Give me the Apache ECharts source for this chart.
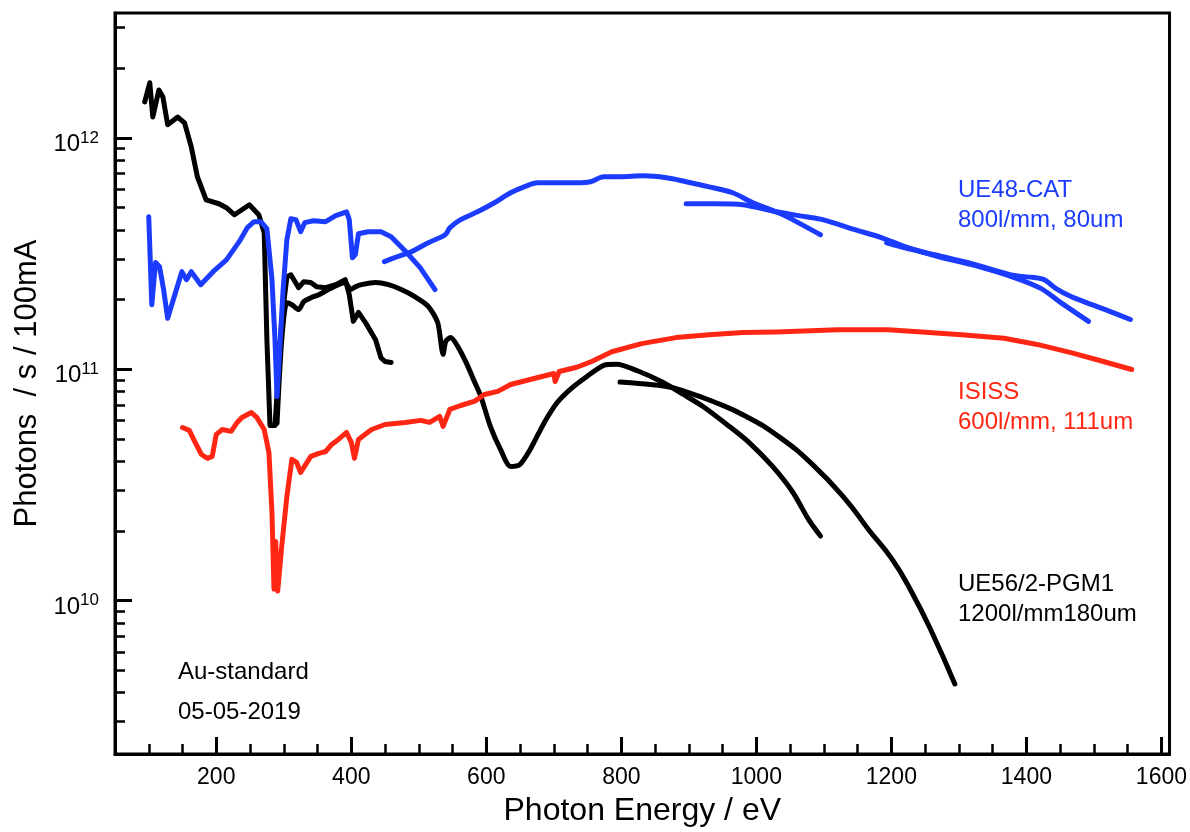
<!DOCTYPE html>
<html><head><meta charset="utf-8">
<script src="https://cdn.jsdelivr.net/npm/echarts@6/dist/echarts.min.js"></script>
<style>html,body{margin:0;padding:0;background:#fff}#c{width:1190px;height:832px}</style>
</head><body><div id="c"></div>
<script>
const FONT = '"Liberation Sans", Arial, Helvetica, sans-serif';
const BLUE = '#1b3cff', RED = '#ff2614', BLACK = '#000000';

// tick values
const xMajorTicks = [200, 400, 600, 800, 1000, 1200, 1400, 1600];
const xMinorTicks = [100, 150, 250, 300, 350, 450, 500, 550, 650, 700, 750, 850, 900, 950, 1050, 1100, 1150, 1250, 1300, 1350, 1450, 1500, 1550];
const yMajorTicks = [1e10, 1e11, 1e12];
const yMinorTicks = [3e9, 4e9, 5e9, 6e9, 7e9, 8e9, 9e9,
  2e10, 3e10, 4e10, 5e10, 6e10, 7e10, 8e10, 9e10,
  2e11, 3e11, 4e11, 5e11, 6e11, 7e11, 8e11, 9e11,
  2e12, 3e12];

// UE56/2-PGM1 (black), three scans  [photon energy eV, photons/s/100mA]
const pgmScanA = [[94,1.43e12],[101.5,1.73e12],[106,1.23e12],[115,1.61e12],[121,1.50e12],[128,1.14e12],[143,1.23e12],[153,1.16e12],[163,9.14e11],[172,6.79e11],[185,5.40e11],[204,5.19e11],[215,4.99e11],[227,4.65e11],[249,5.14e11],[263,4.65e11],[271,3.89e11],[275,1.34e11],[279.6,5.71e10],[287,5.71e10],[297,1.64e11],[304.6,2.51e11],[310.5,2.56e11],[322,2.25e11],[329.6,2.39e11],[340,2.37e11],[349,2.27e11],[362,2.25e11],[377,2.32e11],[391,2.44e11],[397,2.10e11],[403,1.61e11],[410.6,1.76e11],[421,1.59e11],[436,1.34e11],[444,1.12e11],[450,1.08e11],[459,1.07e11]];
const pgmScanB = [[290,5.83e10],[297,1.34e11],[304.6,1.94e11],[312,1.90e11],[322,1.81e11],[329.6,1.96e11],[341,2.04e11],[352,2.10e11],[366,2.21e11],[381,2.32e11],[391,2.37e11],[399,2.21e11],[406,2.27e11],[415,2.32e11],[436,2.37e11],[455,2.32e11],[474,2.21e11],[494,2.06e11],[514,1.87e11],[528,1.59e11],[536,1.16e11],[540,1.32e11],[547,1.37e11],[558,1.25e11],[570,1.07e11],[583,8.76e10],[592,7.62e10],[606,5.66e10],[621,4.50e10],[636,3.80e10],[650,3.88e10],[665,4.50e10],[686,5.89e10],[705,7.18e10],[724,8.17e10],[749,9.30e10],[774,1.04e11],[793,1.05e11],[823,9.87e10],[862,8.76e10],[892,7.78e10],[921,6.90e10],[960,5.66e10],[989,4.83e10],[1024,3.80e10],[1054,2.94e10],[1077,2.25e10],[1095,1.90e10]];
const pgmScanC = [[798,8.8e10],[830,8.65e10],[867,8.42e10],[886,8.17e10],[936,7.25e10],[985,6.25e10],[1033,5.12e10],[1083,3.88e10],[1132,2.74e10],[1166,2.03e10],[1201,1.51e10],[1230,1.09e10],[1260,7.3e9],[1294,4.36e9]];

// ISISS (red)
const isiss = [[150,5.60e10],[160,5.44e10],[168,4.88e10],[178,4.28e10],[187,4.12e10],[194,4.20e10],[200,5.23e10],[209,5.49e10],[222,5.39e10],[231,5.89e10],[238,6.19e10],[252,6.50e10],[260,6.19e10],[271,5.49e10],[278,4.37e10],[282.5,2.41e10],[285.5,1.12e10],[288,1.80e10],[291,1.10e10],[297,1.72e10],[304.6,2.82e10],[312,4.08e10],[319,3.96e10],[325,3.58e10],[332.6,3.88e10],[340,4.20e10],[352,4.33e10],[362,4.41e10],[371,4.73e10],[381,4.97e10],[393,5.33e10],[400,4.83e10],[404.7,4.12e10],[410.6,4.97e10],[430,5.49e10],[450,5.77e10],[480,5.89e10],[503,6.01e10],[516,5.89e10],[531,6.25e10],[536,5.66e10],[546,6.70e10],[562,6.97e10],[583,7.28e10],[597,7.78e10],[617,8.02e10],[636,8.59e10],[665,9.03e10],[700,9.58e10],[702,8.85e10],[708,9.78e10],[734,1.02e11],[756,1.08e11],[786,1.19e11],[830,1.29e11],[881,1.37e11],[930,1.41e11],[980,1.44e11],[1029,1.45e11],[1121,1.48e11],[1195,1.48e11],[1245,1.45e11],[1304,1.41e11],[1367,1.36e11],[1416,1.28e11],[1466,1.18e11],[1514,1.08e11],[1556,9.97e10]];

// UE48-CAT (blue), four scans
const catScan1 = [[100,4.56e11],[104.5,1.90e11],[110,2.89e11],[116,2.77e11],[122,2.21e11],[128,1.66e11],[149,2.64e11],[156,2.44e11],[163,2.64e11],[177,2.32e11],[197,2.67e11],[215,2.97e11],[234,3.56e11],[246,4.09e11],[256,4.34e11],[266,4.34e11],[275,4.05e11],[282.5,2.44e11],[287,1.34e11],[290,7.62e10],[294,1.22e11],[299,2.21e11],[304.6,3.63e11],[310.5,4.47e11],[318,4.43e11],[325,3.93e11],[331,4.30e11],[344,4.38e11],[362,4.34e11],[377,4.61e11],[393,4.79e11],[397,4.43e11],[401.7,3.03e11],[406,3.13e11],[410.6,3.85e11],[425,3.93e11],[444,3.93e11],[459,3.74e11],[481,3.22e11],[502,2.75e11],[524,2.21e11]];
const catScan2 = [[449,2.92e11],[469,3.07e11],[489,3.22e11],[514,3.52e11],[539,3.81e11],[546,4.09e11],[562,4.43e11],[587,4.79e11],[612,5.24e11],[636,5.79e11],[656,6.14e11],[676,6.39e11],[709,6.39e11],[734,6.39e11],[754,6.46e11],[774,6.79e11],[798,6.79e11],[833,6.85e11],[867,6.72e11],[896,6.46e11],[930,6.14e11],[965,5.79e11],[995,5.24e11],[1029,4.79e11],[1048,4.52e11],[1095,3.81e11]];
const catScan3 = [[896,5.19e11],[940,5.19e11],[980,5.14e11],[1029,4.79e11],[1073,4.56e11],[1098,4.43e11],[1146,4.01e11],[1186,3.70e11],[1220,3.39e11],[1269,3.07e11],[1319,2.83e11],[1382,2.49e11],[1422,2.23e11],[1451,1.94e11],[1492,1.61e11]];
const catScan4 = [[1193,3.52e11],[1220,3.35e11],[1269,3.10e11],[1319,2.86e11],[1382,2.54e11],[1411,2.49e11],[1426,2.44e11],[1444,2.23e11],[1466,2.06e11],[1485,1.96e11],[1517,1.81e11],[1554,1.64e11]];

const annotations = [
  ['UE48-CAT', 958, 190, BLUE], ['800l/mm, 80um', 958, 220.5, BLUE],
  ['ISISS', 958, 392.5, RED], ['600l/mm, 111um', 958, 422.5, RED],
  ['UE56/2-PGM1', 958, 584, BLACK], ['1200l/mm180um', 958, 614.5, BLACK],
  ['Au-standard', 178, 672, BLACK], ['05-05-2019', 178, 712, BLACK]
];

function line(name, data, color, z, smooth) {
  return { type: 'line', name: name, data: data, symbol: 'none', showSymbol: false,
    smooth: smooth, z: z, silent: true,
    lineStyle: { color: color, width: 5, cap: 'round', join: 'round' } };
}

const chart = echarts.init(document.getElementById('c'), null, { renderer: 'canvas' });
const X_MIN = 50, X_MAX = 1612, Y_MIN = 2.173e9, Y_MAX = 3.464e12;
chart.setOption({
  animation: false,
  backgroundColor: '#fff',
  grid: { left: 115, right: 14, top: 13, bottom: 77, show: true, borderColor: '#000', borderWidth: 3 },
  xAxis: [{
    type: 'value', min: X_MIN, max: X_MAX, position: 'bottom',
    axisLine: { show: true, lineStyle: { color: '#000', width: 3 } },
    axisTick: { show: true, inside: true, length: 17, lineStyle: { color: '#000', width: 3 }, customValues: xMajorTicks },
    axisLabel: { show: true, customValues: xMajorTicks, color: '#000', fontSize: 23, fontFamily: FONT, margin: 12,
      formatter: function (v) { return String(v); } },
    splitLine: { show: false },
    name: 'Photon Energy / eV', nameLocation: 'middle', nameGap: 41,
    nameTextStyle: { fontSize: 32, fontFamily: FONT, color: '#000' }
  }, {
    type: 'value', min: X_MIN, max: X_MAX, position: 'bottom',
    axisLine: { show: false },
    axisTick: { show: true, inside: true, length: 10, lineStyle: { color: '#000', width: 2.5 }, customValues: xMinorTicks },
    axisLabel: { show: false }, splitLine: { show: false }
  }],
  yAxis: [{
    type: 'log', logBase: 10, min: Y_MIN, max: Y_MAX, position: 'left',
    axisLine: { show: true, lineStyle: { color: '#000', width: 3 } },
    axisTick: { show: true, inside: true, length: 17, lineStyle: { color: '#000', width: 3 }, customValues: yMajorTicks },
    axisLabel: {
      show: true, customValues: yMajorTicks, margin: 16,
      formatter: function (v) { return '{b|10}{s|' + Math.round(Math.log10(v)) + '}'; },
      rich: {
        b: { fontSize: 24, fontFamily: FONT, color: '#000', lineHeight: 24, padding: [13, 0, 0, 0] },
        s: { fontSize: 17, fontFamily: FONT, color: '#000', lineHeight: 17, verticalAlign: 'middle' }
      }
    },
    splitLine: { show: false },
    name: 'Photons  / s / 100mA', nameLocation: 'middle', nameGap: 72,
    nameTextStyle: { fontSize: 31, fontFamily: FONT, color: '#000' }
  }, {
    type: 'log', logBase: 10, min: Y_MIN, max: Y_MAX, position: 'left',
    axisLine: { show: false },
    axisTick: { show: true, inside: true, length: 10, lineStyle: { color: '#000', width: 2.5 }, customValues: yMinorTicks },
    axisLabel: { show: false }, splitLine: { show: false }
  }],
  series: [
    line('UE56/2-PGM1 a', pgmScanA, BLACK, 2, false),
    line('UE56/2-PGM1 b', pgmScanB, BLACK, 2, 0.25),
    line('UE56/2-PGM1 c', pgmScanC, BLACK, 2, 0.5),
    line('ISISS', isiss, RED, 3, false),
    line('UE48-CAT 1', catScan1, BLUE, 4, false),
    line('UE48-CAT 2', catScan2, BLUE, 4, 0.3),
    line('UE48-CAT 3', catScan3, BLUE, 4, 0.3),
    line('UE48-CAT 4', catScan4, BLUE, 4, 0.3)
  ],
  graphic: annotations.map(function (a) {
    return { type: 'text', x: a[1], y: a[2], silent: true, z: 10,
      style: { text: a[0], fill: a[3], fontSize: 24, fontFamily: FONT, align: 'left', verticalAlign: 'middle' } };
  })
});
</script></body></html>
